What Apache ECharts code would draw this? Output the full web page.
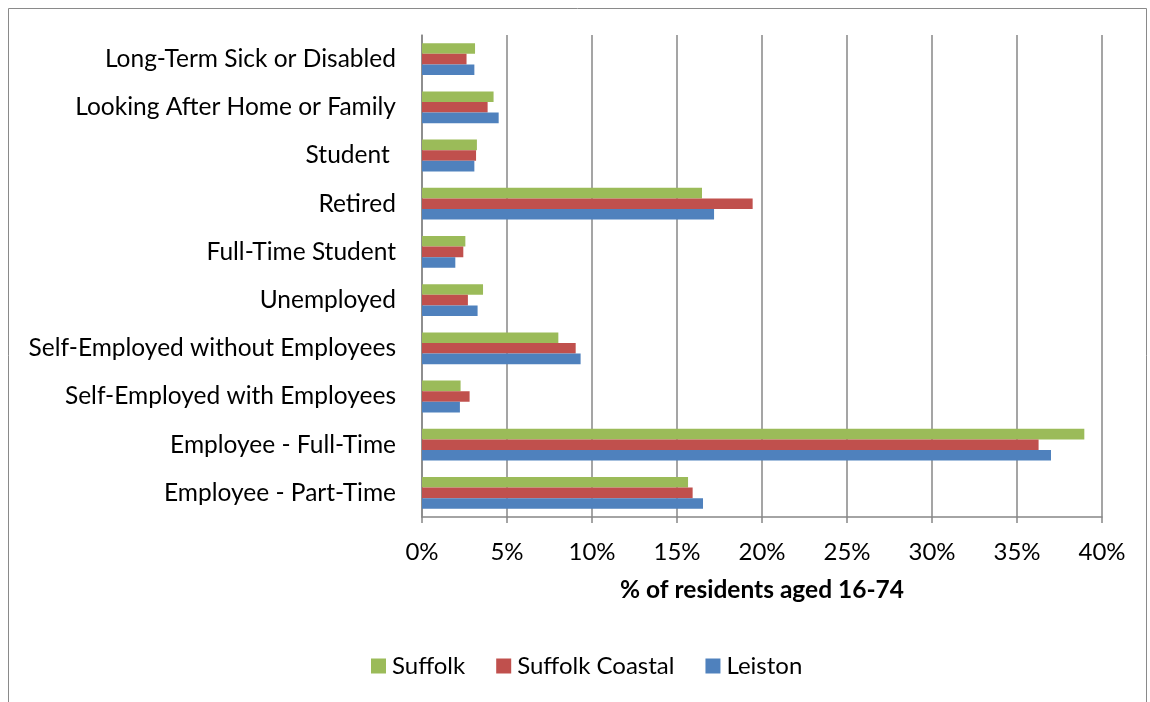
<!DOCTYPE html>
<html>
<head>
<meta charset="utf-8">
<title>Economic activity</title>
<script src="https://cdn.jsdelivr.net/npm/echarts@6/dist/echarts.min.js"></script>
<style>
  html, body { margin: 0; padding: 0; background: #fff; }
  #chart { width: 1150px; height: 702px; }
</style>
</head>
<body>
<div id="chart"></div>
<script>
// categories, bottom to top (as the y axis draws them)
var categories = [
  'Employee - Part-Time',
  'Employee - Full-Time',
  'Self-Employed with Employees',
  'Self-Employed without Employees',
  'Unemployed',
  'Full-Time Student',
  'Retired',
  'Student ',
  'Looking After Home or Family',
  'Long-Term Sick or Disabled'
];
// % of residents aged 16-74
var suffolk        = [15.65, 38.96, 2.27, 8.02, 3.59, 2.55, 16.47, 3.23, 4.21, 3.12];
var suffolkCoastal = [15.92, 36.27, 2.80, 9.04, 2.70, 2.43, 19.45, 3.18, 3.86, 2.62];
var leiston        = [16.53, 37.00, 2.23, 9.33, 3.27, 1.96, 17.18, 3.08, 4.51, 3.08];

var xTicks = { min: 0, max: 40, interval: 5 };

var chart = echarts.init(document.getElementById('chart'), null, { renderer: 'canvas' });

var font = 'Lato, "Open Sans", sans-serif';

var option = {
  animation: false,
  textStyle: { fontFamily: font },
  graphic: [{
    type: 'rect',
    shape: { x: 8.5, y: 8.5, width: 1138, height: 720 },
    style: { fill: 'none', stroke: '#8a8a8a', lineWidth: 1 }
  }],
  grid: { left: 422, right: 48, top: 35, bottom: 185 },
  legend: {
    data: ['Suffolk', 'Suffolk Coastal', 'Leiston'],
    top: 649,
    left: 366,
    icon: 'rect',
    itemWidth: 15,
    itemHeight: 15,
    itemGap: 31,
    textStyle: { fontSize: 24, color: '#000', fontFamily: font, padding: [0, 0, 0, 1] }
  },
  xAxis: {
    type: 'value',
    min: xTicks.min,
    max: xTicks.max,
    interval: xTicks.interval,
    name: '% of residents aged 16-74',
    nameLocation: 'middle',
    nameGap: 61,
    nameTextStyle: { fontSize: 24.5, fontWeight: 'bold', color: '#000', fontFamily: font },
    axisLine: { show: true, lineStyle: { color: '#878787', width: 1.5 } },
    axisTick: { show: true, length: 6, lineStyle: { color: '#878787', width: 1.5 } },
    axisLabel: { formatter: '{value}%', fontSize: 24, color: '#000', margin: 23 },
    splitLine: { show: true, lineStyle: { color: '#878787', width: 1.5 } }
  },
  yAxis: {
    type: 'category',
    data: categories,
    axisLine: { show: true, lineStyle: { color: '#878787', width: 1.5 } },
    axisTick: { show: false },
    axisLabel: { fontSize: 24.5, color: '#000', margin: 26 }
  },
  series: [
    { name: 'Suffolk', type: 'bar', data: suffolk, itemStyle: { color: '#9BBB59' }, barGap: 0, barCategoryGap: '34%' },
    { name: 'Suffolk Coastal', type: 'bar', data: suffolkCoastal, itemStyle: { color: '#C0504D' }, barGap: 0, barCategoryGap: '34%' },
    { name: 'Leiston', type: 'bar', data: leiston, itemStyle: { color: '#4F81BD' }, barGap: 0, barCategoryGap: '34%' }
  ]
};

chart.setOption(option);
</script>
</body>
</html>
